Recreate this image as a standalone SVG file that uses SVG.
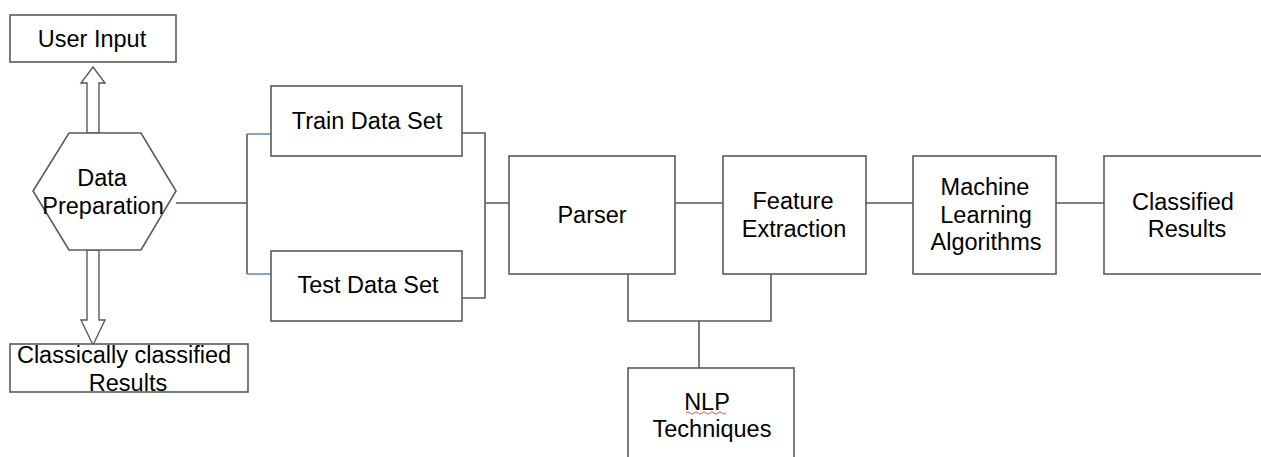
<svg xmlns="http://www.w3.org/2000/svg" width="1261" height="457" viewBox="0 0 1261 457">
<style>
.box{fill:#fff;stroke:#5a5a5a;stroke-width:1.6}
.t{font-family:"Liberation Sans",Arial,sans-serif;font-size:23.5px;fill:#000;text-anchor:middle}
.c{fill:none;stroke:#5a5a5a;stroke-width:1.6}
.cb{fill:none;stroke:#5b86c0;stroke-width:1.3}
.ar{fill:#fff;stroke:#5a5a5a;stroke-width:1.4;stroke-linejoin:miter}
</style>
<rect width="1261" height="457" fill="#fff"/>
<g id="connectors">
  <path class="ar" d="M87,133 V83 H81 L93,67 L105,83 H99 V133 Z"/>
  <path class="ar" d="M87,250 V320 H81 L93,345 L105,320 H99 V250 Z"/>
  <path class="c" d="M176,203 H247 M247,134 V274"/>
  <path class="cb" d="M247,134 H271 M247,274 H271"/>
  <path class="c" d="M462,133 H485 V298 H462 M485,203 H509"/>
  <path class="c" d="M675,203 H723 M866,203 H913 M1056,203 H1104"/>
  <path class="c" d="M628,274 V321 H771 V274 M699,321 V368"/>
</g>
<g id="user-input">
  <rect class="box" x="10" y="15" width="166" height="47"/>
  <text class="t" x="92" y="47">User Input</text>
</g>
<g id="data-preparation">
  <polygon class="box" points="69,133 141,133 176,191 141,250 69,250 33,191"/>
  <text class="t" x="102" y="186">Data</text>
  <text class="t" x="103" y="214">Preparation</text>
</g>
<g id="classically-classified">
  <rect class="box" x="10" y="344" width="238" height="48"/>
  <text class="t" x="124" y="363">Classically classified</text>
  <text class="t" x="128" y="391">Results</text>
</g>
<g id="train-data-set">
  <rect class="box" x="271" y="86" width="191" height="70"/>
  <text class="t" x="367" y="129">Train Data Set</text>
</g>
<g id="test-data-set">
  <rect class="box" x="271" y="251" width="191" height="70"/>
  <text class="t" x="368" y="293">Test Data Set</text>
</g>
<g id="parser">
  <rect class="box" x="509" y="156" width="166" height="118"/>
  <text class="t" x="592" y="223">Parser</text>
</g>
<g id="feature-extraction">
  <rect class="box" x="723" y="156" width="143" height="118"/>
  <text class="t" x="793" y="209">Feature</text>
  <text class="t" x="794" y="237">Extraction</text>
</g>
<g id="machine-learning">
  <rect class="box" x="913" y="156" width="143" height="118"/>
  <text class="t" x="985" y="195">Machine</text>
  <text class="t" x="986" y="223">Learning</text>
  <text class="t" x="986" y="250">Algorithms</text>
</g>
<g id="classified-results">
  <rect class="box" x="1104" y="156" width="170" height="118"/>
  <text class="t" x="1183" y="210">Classified</text>
  <text class="t" x="1187" y="237">Results</text>
</g>
<g id="nlp-techniques">
  <rect class="box" x="628" y="368" width="166" height="110"/>
  <text class="t" x="707" y="410">NLP</text>
  <text class="t" x="712" y="437">Techniques</text>
  <path d="M686,413 q2,-2.5 4,0 t4,0 t4,0 t4,0 t4,0 t4,0 t4,0 t4,0 t4,0 t4,0" fill="none" stroke="#e05050" stroke-width="1"/>
</g>
</svg>
